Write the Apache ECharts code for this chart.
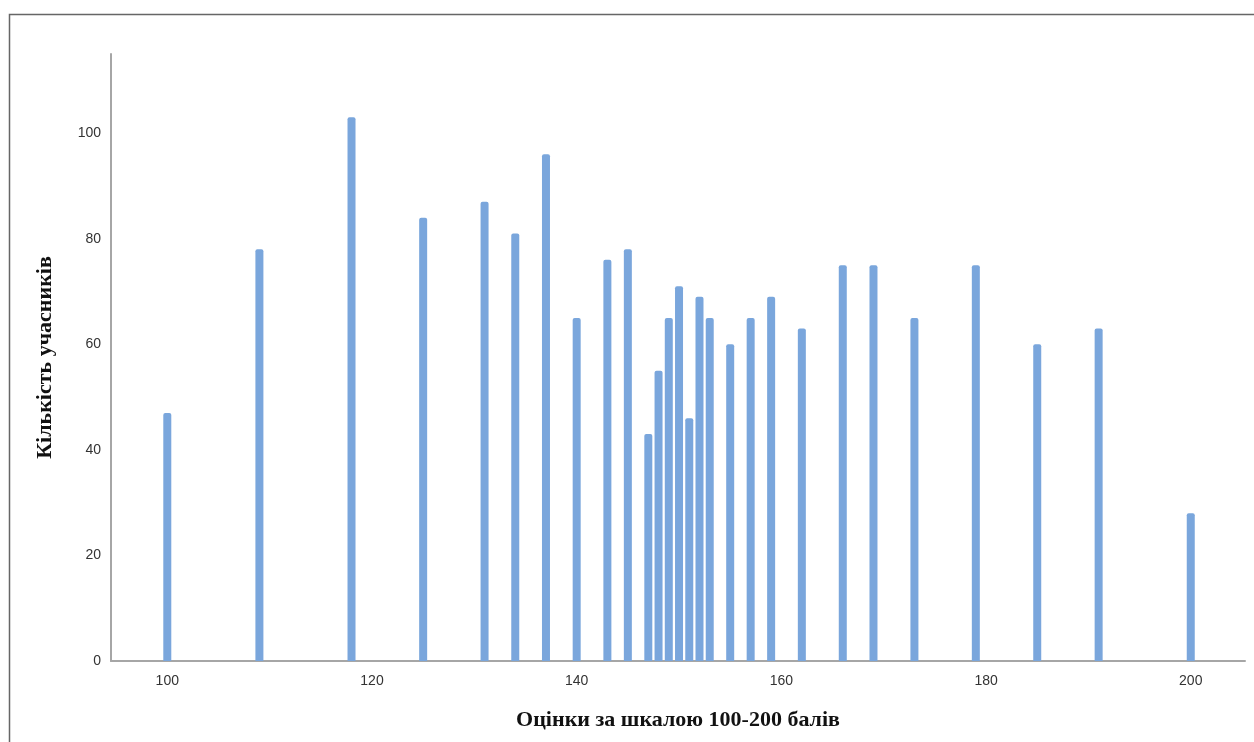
<!DOCTYPE html>
<html>
<head>
<meta charset="utf-8">
<script src="https://cdn.jsdelivr.net/npm/echarts@6/dist/echarts.min.js"></script>
<style>html,body{margin:0;padding:0;background:#fff}#c{width:1254px;height:742px}</style>
</head>
<body>
<div id="c"></div>
<script>
const scores = [100,109,118,125,131,134,137,140,143,145,147,148,149,150,151,152,153,155,157,159,162,166,169,173,179,185,191,200];
const counts = [47,78,103,84,87,81,96,65,76,78,43,55,65,71,46,69,65,60,65,69,63,75,75,65,75,60,63,28];
const xTicks = [100,120,140,160,180,200];
const xTitle = 'Оцінки за шкалою 100-200 балів';
const yTitle = 'Кількість учасників';

const chart = echarts.init(document.getElementById('c'), null, {renderer:'canvas'});
chart.setOption({
  animation:false,
  backgroundColor:'#fff',
  graphic:[{type:'rect',shape:{x:9.5,y:14.5,width:1300,height:800},style:{fill:null,stroke:'#666',lineWidth:1.5},silent:true}],
  grid:{left:111,right:9,top:54,bottom:81,containLabel:false},
  xAxis:{
    type:'value',min:94.5,max:205.3,
    name:xTitle,nameLocation:'middle',nameGap:48,
    nameTextStyle:{fontFamily:'Liberation Serif',fontWeight:'bold',fontSize:22,color:'#111'},
    axisLine:{show:true,lineStyle:{color:'#a6a6a6',width:2}},
    axisTick:{show:false},
    splitLine:{show:false},
    axisLabel:{customValues:xTicks,fontFamily:'Liberation Sans',fontSize:14,color:'#333',margin:13}
  },
  yAxis:{
    type:'value',min:0,max:115,interval:20,
    name:yTitle,nameLocation:'middle',nameGap:55,nameRotate:90,
    nameTextStyle:{fontFamily:'Liberation Serif',fontWeight:'bold',fontSize:22,color:'#111'},
    axisLine:{show:true,lineStyle:{color:'#a6a6a6',width:2}},
    axisTick:{show:false},
    splitLine:{show:false},
    axisLabel:{fontFamily:'Liberation Sans',fontSize:14,color:'#333',margin:10,
      formatter:v=> (v%20===0 && v<=100) ? String(v) : ''}
  },
  series:[{
    type:'bar',
    data:scores.map((s,i)=>[s,counts[i]]),
    barWidth:8,
    itemStyle:{color:'#7aa6dc',borderRadius:[2,2,0,0]}
  }]
});
</script>
</body>
</html>
